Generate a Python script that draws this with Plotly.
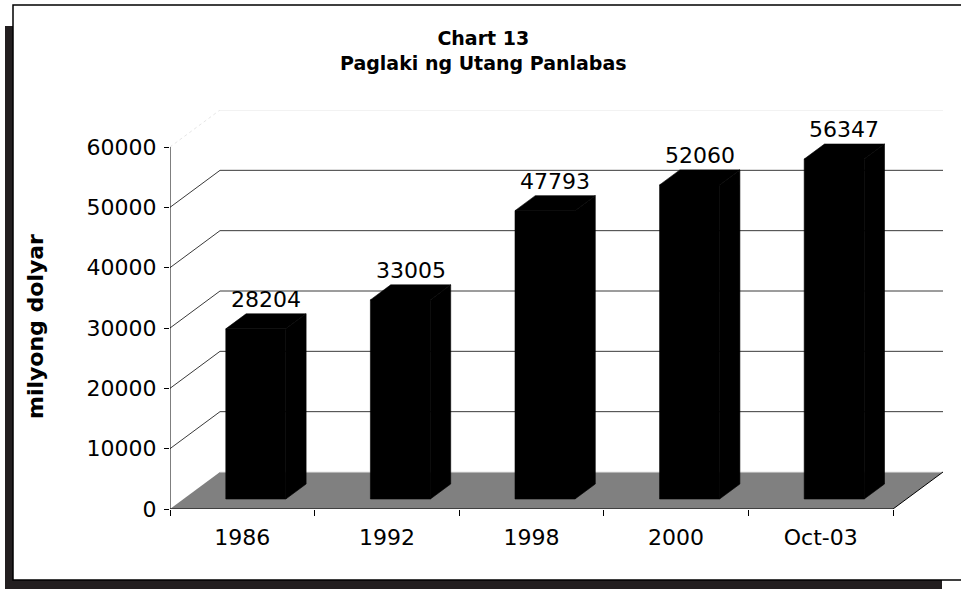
import plotly.graph_objects as go

# Data
categories = ["1986", "1992", "1998", "2000", "Oct-03"]
debt_musd = [28204, 33005, 47793, 52060, 56347]
y_ticks = [0, 10000, 20000, 30000, 40000, 50000, 60000]

# Pseudo-3D geometry (in axis units)
DX = 0.3458        # depth offset along x (categories)
DY = 6133          # depth offset along y (value units)
F1, F2 = 0.27, 0.676   # bar front/back depth fractions
HW = 0.2075        # half bar width
X0, X1 = -0.5, len(categories) - 0.5

# Layout in pixels
W, H = 961, 589
ML, MR, MT, MB = 170, 18, 110, 80
PW, PH = W - ML - MR, H - MT - MB


def px(x):
    return (x - ML) / PW


def py(y):
    return (H - MB - y) / PH


fig = go.Figure()

# Floor
fig.add_trace(go.Scatter(
    x=[X0, X1, X1 + DX, X0 + DX, X0], y=[0, 0, DY, DY, 0],
    fill="toself", fillcolor="#808080", mode="lines",
    line=dict(color="#808080", width=0), hoverinfo="skip", showlegend=False))
fig.add_trace(go.Scatter(
    x=[X0 + DX, X1 + DX], y=[DY, DY], mode="lines",
    line=dict(color="#e6e6e6", width=1), hoverinfo="skip", showlegend=False))
fig.add_trace(go.Scatter(
    x=[X1, X1 + DX], y=[0, DY], mode="lines",
    line=dict(color="black", width=1), hoverinfo="skip", showlegend=False))

# Back-wall gridlines + diagonal connectors
for v in y_ticks[1:]:
    top = v == y_ticks[-1]
    col = "#e6e6e6" if top else "#3a3a3a"
    fig.add_trace(go.Scatter(
        x=[X0 + DX, X1 + DX], y=[v + DY, v + DY], mode="lines",
        line=dict(color=col, width=1), hoverinfo="skip", showlegend=False))
    fig.add_trace(go.Scatter(
        x=[X0, X0 + DX], y=[v, v + DY], mode="lines",
        line=dict(color=col, width=1, dash="dot" if top else "solid"),
        hoverinfo="skip", showlegend=False))

# Bars: side, top and front faces built from the values
for i, v in enumerate(debt_musd):
    l, r = i - HW, i + HW
    fx, fy = F1 * DX, F1 * DY
    bx, by = F2 * DX, F2 * DY
    faces = [
        ([r + fx, r + bx, r + bx, r + fx, r + fx], [fy, by, v + by, v + fy, fy]),
        ([l + fx, r + fx, r + bx, l + bx, l + fx], [v + fy, v + fy, v + by, v + by, v + fy]),
        ([l + fx, r + fx, r + fx, l + fx, l + fx], [fy, fy, v + fy, v + fy, fy]),
    ]
    for xs, ys in faces:
        fig.add_trace(go.Scatter(
            x=xs, y=ys, fill="toself", fillcolor="black", mode="lines",
            line=dict(color="black", width=0.6), hoverinfo="skip", showlegend=False))
    fig.add_annotation(
        x=i + (F1 + F2) / 2 * DX, y=v + by, text=str(v), showarrow=False,
        xanchor="center", yanchor="bottom", yshift=0, font=dict(size=22, color="black"))

# Front axis lines
fig.add_trace(go.Scatter(
    x=[X0, X0], y=[0, y_ticks[-1]], mode="lines",
    line=dict(color="black", width=1), hoverinfo="skip", showlegend=False))
fig.add_trace(go.Scatter(
    x=[X0, X1], y=[0, 0], mode="lines",
    line=dict(color="black", width=1.2), hoverinfo="skip", showlegend=False))

# Frame with drop shadow
fig.add_shape(type="rect", xref="paper", yref="paper", layer="below",
              x0=px(5), x1=px(942), y0=py(26), y1=py(600),
              fillcolor="#231f20", line=dict(width=0))
fig.add_shape(type="rect", xref="paper", yref="paper", layer="below",
              x0=px(13), x1=px(975), y0=py(5), y1=py(580),
              fillcolor="white", line=dict(color="black", width=1.5))

fig.add_annotation(
    xref="paper", yref="paper", x=px(483), y=py(50),
    xanchor="center", yanchor="middle",
    text="<b>Chart 13<br>Paglaki ng Utang Panlabas</b>", showarrow=False,
    font=dict(size=19, color="black", family="DejaVu Sans"))
fig.add_annotation(
    xref="paper", yref="paper", x=px(35), y=py(327), textangle=-90,
    xanchor="center", yanchor="middle",
    text="<b>milyong dolyar</b>", showarrow=False,
    font=dict(size=22, color="black", family="DejaVu Sans"))

fig.update_layout(
    width=W, height=H,
    margin=dict(l=ML, r=MR, t=MT, b=MB),
    paper_bgcolor="white", plot_bgcolor="rgba(0,0,0,0)",
    font=dict(family="DejaVu Sans", size=22, color="black"),
    showlegend=False,
    xaxis=dict(
        range=[X0, X1 + DX], tickvals=list(range(len(categories))),
        ticktext=categories, ticks="", showgrid=False, zeroline=False,
        showline=False, ticklabelstandoff=13,
        minor=dict(tickmode="array", tickvals=[X0 + k for k in range(len(categories) + 1)],
                   ticks="outside", ticklen=6, tickcolor="black", showgrid=False),
    ),
    yaxis=dict(
        range=[0, y_ticks[-1] + DY], tickvals=y_ticks,
        ticktext=[str(v) for v in y_ticks], ticks="outside",
        ticklen=5, tickcolor="black", showgrid=False, zeroline=False,
        showline=False, ticklabelstandoff=3,
    ),
)

# drop the page's default body margin so the figure sits at the window origin
fig.write_html("out.html", config={"displayModeBar": False},
               post_script="document.body.style.margin='0';")
